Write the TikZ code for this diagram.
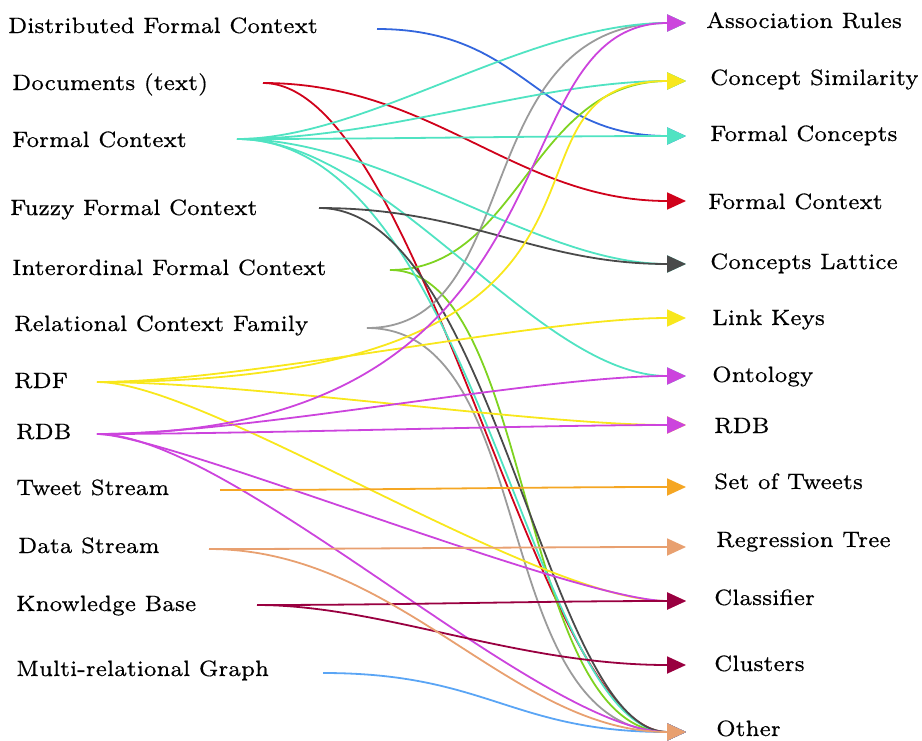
\documentclass[tikz,border=0pt]{standalone}
\usepackage{fontspec}
\usetikzlibrary{arrows.meta,calc}
\newfontfamily\lblfont{lmroman7-regular}[Extension=.otf,FakeBold=0.5]
\definecolor{cBlue}{HTML}{3366DD}
\definecolor{cRed}{HTML}{D0021B}
\definecolor{cTurq}{HTML}{50E3C2}
\definecolor{cDark}{HTML}{4A4A4A}
\definecolor{cGreen}{HTML}{7ED321}
\definecolor{cGray}{HTML}{9B9B9B}
\definecolor{cYellow}{HTML}{F8E71C}
\definecolor{cMagenta}{HTML}{CC44DD}
\definecolor{cOrange}{HTML}{F5A623}
\definecolor{cSalmon}{HTML}{E8A070}
\definecolor{cCrimson}{HTML}{990040}
\definecolor{cSky}{HTML}{5AA5F5}
\tikzset{srcarm/.store in=\srcArm, dstarm/.store in=\dstArm, srcarm=150, dstarm=150}
\begin{document}
\begin{tikzpicture}[x=1pt,y=-1pt,
  lbl/.style={anchor=base west,inner sep=0pt,font=\lblfont\fontsize{22.2}{27}\selectfont},
  flow/.style={line width=1.8pt,-{Triangle[length=19pt,width=17pt]},
    to path={let \p1=(\tikztostart),\p2=(\tikztotarget) in
      .. controls ({\x1+\srcArm pt},\y1) and ({\x2-\dstArm pt},\y2) .. (\tikztotarget)}}]
\useasboundingbox (0,0) rectangle (922,740);

% sources
\node[lbl] (tDist) at (8,33) {Distributed Formal Context};
\node[lbl] (tDoc) at (12,90) {Documents (text)};
\node[lbl] (tFC) at (12,147) {Formal Context};
\node[lbl] (tFuzzy) at (10,215) {Fuzzy Formal Context};
\node[lbl] (tInter) at (12,275) {Interordinal Formal Context};
\node[lbl] (tRCF) at (14,331) {Relational Context Family};
\node[lbl] (tRDF) at (14,388) {RDF};
\node[lbl] (tRDB) at (16,439) {RDB};
\node[lbl] (tTweet) at (16,495) {Tweet Stream};
\node[lbl] (tData) at (18,553) {Data Stream};
\node[lbl] (tKB) at (16,611) {Knowledge Base};
\node[lbl] (tMRG) at (16,676) {Multi-relational Graph};

\coordinate (sDist) at (377,29);
\coordinate (sDoc) at (263,83);
\coordinate (sFC) at (237,139);
\coordinate (sFuzzy) at (319,208);
\coordinate (sInter) at (390,270);
\coordinate (sRCF) at (367,328);
\coordinate (sRDF) at (97,382);
\coordinate (sRDB) at (97,434);
\coordinate (sTweet) at (220,490);
\coordinate (sData) at (209,549);
\coordinate (sKB) at (257,605);
\coordinate (sMRG) at (323,673);

% targets
\node[lbl] (uAR) at (706,28) {Association Rules};
\node[lbl] (uCS) at (710,85) {Concept Similarity};
\node[lbl] (uFCo) at (710,141) {Formal Concepts};
\node[lbl] (uFCx) at (708,209) {Formal Context};
\node[lbl] (uCL) at (710,269) {Concepts Lattice};
\node[lbl] (uLK) at (712,325) {Link Keys};
\node[lbl] (uOnt) at (712,382) {Ontology};
\node[lbl] (uRDB) at (714,433) {RDB};
\node[lbl] (uSoT) at (714,489) {Set of Tweets};
\node[lbl] (uRT) at (716,547) {Regression Tree};
\node[lbl] (uCla) at (714,605) {Classifier};
\node[lbl] (uClu) at (714,671) {Clusters};
\node[lbl] (uOth) at (716,736) {Other};

\coordinate (eAR) at (686,23);
\coordinate (eCS) at (686,81);
\coordinate (eFCo) at (686,136);
\coordinate (eFCx) at (686,201);
\coordinate (eCL) at (686,264);
\coordinate (eLK) at (686,318);
\coordinate (eOnt) at (686,376);
\coordinate (eRDB) at (686,425);
\coordinate (eSoT) at (686,487);
\coordinate (eRT) at (686,547);
\coordinate (eCla) at (686,601);
\coordinate (eClu) at (686,665);
\coordinate (eOth) at (686,732);

% flows (later ones are drawn on top)
\draw[flow,cBlue] (sDist) to (eFCo);
\draw[flow,cRed,srcarm=170,dstarm=170] (sDoc) to (eFCx);
\draw[flow,cRed,srcarm=160,dstarm=150] (sDoc) to (eOth);
\draw[flow,cGreen,srcarm=130,dstarm=155] (sInter) to (eCS);
\draw[flow,cGreen,srcarm=145,dstarm=170] (sInter) to (eOth);
\draw[flow,cGray,srcarm=160,dstarm=220] (sRCF) to (eAR);
\draw[flow,cGray,srcarm=175,dstarm=200] (sRCF) to (eOth);
\draw[flow,cTurq,srcarm=130,dstarm=160] (sFC) to (eAR);
\draw[flow,cTurq] (sFC) to (eCS);
\draw[flow,cTurq] (sFC) to (eFCo);
\draw[flow,cTurq] (sFC) to (eCL);
\draw[flow,cTurq] (sFC) to (eOnt);
\draw[flow,cTurq,srcarm=240,dstarm=155] (sFC) to (eOth);
\draw[flow,cDark] (sFuzzy) to (eCL);
\draw[flow,cDark,srcarm=175,dstarm=140] (sFuzzy) to (eOth);
\draw[flow,cYellow] (sRDF) to (eLK);
\draw[flow,cYellow] (sRDF) to (eRDB);
\draw[flow,cYellow,srcarm=110,dstarm=150] (sRDF) to (eCla);
\draw[flow,cYellow,srcarm=600,dstarm=220] (sRDF) to (eCS);
\draw[flow,cMagenta,srcarm=70,dstarm=110] (sRDB) to (eCla);
\draw[flow,cMagenta,srcarm=135,dstarm=145] (sRDB) to (eOth);
\draw[flow,cMagenta,srcarm=500,dstarm=200] (sRDB) to (eAR);
\draw[flow,cMagenta] (sRDB) to (eOnt);
\draw[flow,cMagenta] (sRDB) to (eRDB);
\draw[flow,cOrange] (sTweet) to (eSoT);
\draw[flow,cSky,srcarm=165,dstarm=175] (sMRG) to (eOth);
\draw[flow,cCrimson,srcarm=125,dstarm=170] (sKB) to (eClu);
\draw[flow,cCrimson] (sKB) to (eCla);
\draw[flow,cSalmon] (sData) to (eRT);
\draw[flow,cSalmon,srcarm=190,dstarm=175] (sData) to (eOth);
\end{tikzpicture}
\end{document}
